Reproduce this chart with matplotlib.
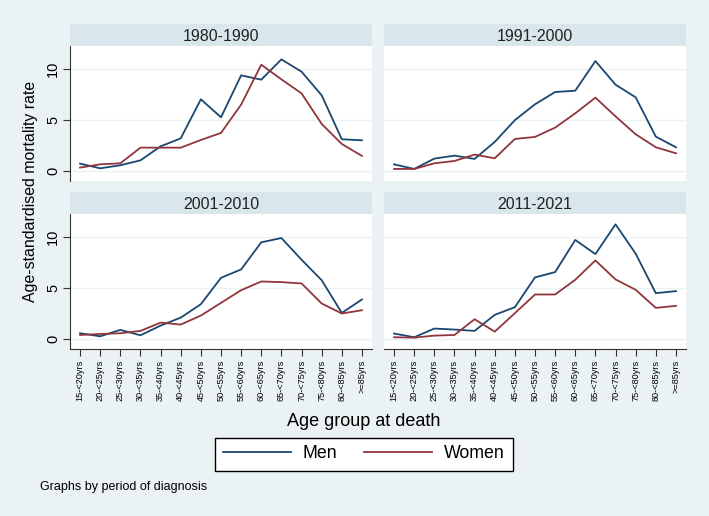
import numpy as np
import matplotlib
matplotlib.use('Agg')
import matplotlib.pyplot as plt
from matplotlib.lines import Line2D

plt.rcParams['font.family'] = ['Liberation Sans', 'DejaVu Sans']

# categorias do eixo x
age_groups = ['15-<20yrs', '20-<25yrs', '25-<30yrs', '30-<35yrs', '35-<40yrs',
              '40-<45yrs', '45-<50yrs', '50-<55yrs', '55-<60yrs', '60-<65yrs',
              '65-<70yrs', '70-<75yrs', '75-<80yrs', '80-<85yrs', '>=85yrs']

periods = ['1980-1990', '1991-2000', '2001-2010', '2011-2021']

# valores (taxa padronizada por idade)
men_1980 = [0.75, 0.29, 0.59, 1.07, 2.44, 3.22, 7.04, 5.28, 9.38, 8.96, 10.94, 9.74, 7.43, 3.13, 3.03]
women_1980 = [0.36, 0.68, 0.78, 2.31, 2.31, 2.31, 3.06, 3.75, 6.52, 10.42, 8.99, 7.62, 4.63, 2.67, 1.50]

men_1991 = [0.68, 0.23, 1.24, 1.53, 1.21, 2.87, 5.00, 6.55, 7.75, 7.88, 10.78, 8.47, 7.23, 3.39, 2.35]
women_1991 = [0.23, 0.23, 0.78, 1.01, 1.63, 1.27, 3.16, 3.36, 4.27, 5.67, 7.20, 5.37, 3.62, 2.35, 1.76]

men_2001 = [0.59, 0.29, 0.92, 0.39, 1.34, 2.12, 3.43, 6.01, 6.83, 9.48, 9.90, 7.78, 5.78, 2.58, 3.89]
women_2001 = [0.42, 0.52, 0.59, 0.82, 1.63, 1.44, 2.32, 3.56, 4.80, 5.65, 5.59, 5.46, 3.50, 2.52, 2.84]

men_2011 = [0.56, 0.20, 1.05, 0.95, 0.82, 2.39, 3.14, 6.05, 6.57, 9.71, 8.33, 11.24, 8.37, 4.51, 4.71]
women_2011 = [0.20, 0.16, 0.36, 0.42, 1.96, 0.75, 2.55, 4.38, 4.38, 5.82, 7.71, 5.85, 4.84, 3.07, 3.27]

men = [men_1980, men_1991, men_2001, men_2011]
women = [women_1980, women_1991, women_2001, women_2011]

cor_homem = '#1a476f'
cor_mulher = '#90353b'
cor_fundo = '#eaf2f3'
cor_faixa = '#d9e6eb'

W, H = 709, 516
fig = plt.figure(figsize=(W / 100, H / 100), dpi=100, facecolor=cor_fundo)

x = np.arange(1, len(age_groups) + 1)

# posicoes dos paineis em pixels (esquerda, topo do grafico)
lefts = [70, 384, 70, 384]
tops = [46, 46, 214, 214]
pw, ph, sh = 302, 135, 22

for i in range(4):
    l, t = lefts[i], tops[i]
    ax = fig.add_axes([l / W, 1 - (t + ph) / H, pw / W, ph / H])
    ax.set_facecolor('white')
    ax.plot(x, men[i], color=cor_homem, lw=1.3)
    ax.plot(x, women[i], color=cor_mulher, lw=1.3)
    ax.set_xlim(0.5, 15.5)
    ax.set_ylim(-0.95, 12.25)
    ax.set_yticks([0, 5, 10])
    for y in [0, 5, 10]:
        ax.axhline(y, color=cor_fundo, lw=1.0, zorder=0)
    for s in ax.spines.values():
        s.set_visible(False)
    if i in (0, 2):
        ax.spines['left'].set_visible(True)
        ax.spines['left'].set_color('#333333')
        ax.tick_params(axis='y', length=5, color='#333333', labelsize=10.5, pad=2)
        ax.set_yticklabels(['0', '5', '10'], rotation=90, va='center')
    else:
        ax.tick_params(axis='y', left=False, labelleft=False)
    if i in (2, 3):
        ax.spines['bottom'].set_visible(True)
        ax.spines['bottom'].set_color('#333333')
        ax.set_xticks(x)
        ax.set_xticklabels(age_groups, rotation=90, fontsize=6.6)
        ax.tick_params(axis='x', length=5, color='#333333', pad=3)
    else:
        ax.set_xticks([])

    # faixa do titulo
    sax = fig.add_axes([l / W, 1 - t / H, pw / W, sh / H])
    sax.set_facecolor(cor_faixa)
    sax.set_xticks([])
    sax.set_yticks([])
    for s in sax.spines.values():
        s.set_visible(False)
    sax.text(0.5, 0.45, periods[i], ha='center', va='center', fontsize=11.5, color='#222222')

fig.text(31 / W, 1 - 191 / H, 'Age-standardised mortality rate', rotation=90,
         ha='center', va='center', fontsize=11.4)
fig.text(364 / W, 1 - 422 / H, 'Age group at death', ha='center', va='center', fontsize=13)
fig.text(40 / W, 1 - 487 / H, 'Graphs by period of diagnosis', ha='left', va='center', fontsize=9)

handles = [Line2D([], [], color=cor_homem, lw=1.3), Line2D([], [], color=cor_mulher, lw=1.3)]
leg = fig.legend(handles, ['Men', 'Women'], loc='center', ncol=2,
                 bbox_to_anchor=(364 / W, 1 - 454 / H), fontsize=12.8,
                 handlelength=3.8, columnspacing=1.5, handletextpad=0.7,
                 frameon=True, fancybox=False, edgecolor='black', framealpha=1,
                 borderpad=0.45)
leg.get_frame().set_linewidth(1.0)

fig.savefig('out.png', dpi=100, facecolor=cor_fundo)
